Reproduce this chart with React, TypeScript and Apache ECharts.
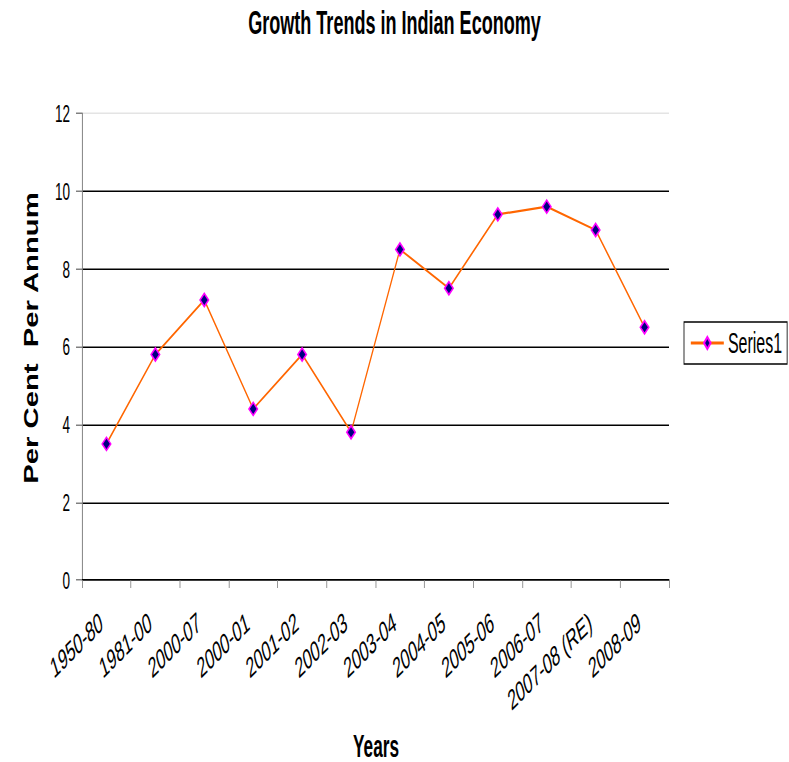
import React, { useEffect, useRef } from "react";
import * as echarts from "echarts";

const categories: string[] = [
  "1950-80",
  "1981-00",
  "2000-07",
  "2000-01",
  "2001-02",
  "2002-03",
  "2003-04",
  "2004-05",
  "2005-06",
  "2006-07",
  "2007-08 (RE)",
  "2008-09",
];
const series1: number[] = [3.5, 5.8, 7.2, 4.4, 5.8, 3.8, 8.5, 7.5, 9.4, 9.6, 9.0, 6.5];
const yMin = 0;
const yMax = 12;
const yStep = 2;

const titleText = "Growth Trends in Indian Economy";
const xName = "Years";
const yName = "Per Cent  Per Annum";
const seriesName = "Series1";

// The reference is a narrow-font chart stretched vertically: reproduce with a transform.
const SX = 0.82;
const SY = 1.5;
const W = 789;
const H = 762;
const IW = W / SX;
const IH = H / SY;
const hx = (v: number) => v / SX; // observed x -> inner x
const hy = (v: number) => v / SY; // observed y -> inner y

const FONT = "'Liberation Sans', Arial, sans-serif";

export default function App() {
  const ref = useRef<HTMLDivElement>(null);
  useEffect(() => {
    if (!ref.current) return;
    const chart = echarts.init(ref.current, undefined, { renderer: "svg", width: IW, height: IH });
    chart.setOption({
      animation: false,
      backgroundColor: "#ffffff",
      title: {
        text: titleText,
        left: "center",
        top: 4,
        padding: 0,
        textStyle: { fontFamily: FONT, fontWeight: "bold", fontSize: 22, color: "#000" },
      },
      legend: {
        data: [seriesName],
        left: hx(684),
        top: hy(322),
        padding: [4, hx(5), 4, hx(6)],
        orient: "vertical",
        borderColor: "#000",
        borderWidth: 1,
        itemWidth: hx(33),
        itemHeight: 10,
        textStyle: { fontFamily: FONT, fontSize: 19.5, color: "#000" },
      },
      grid: { left: hx(82), right: IW - hx(669), top: hy(113.3), bottom: IH - hy(580) },
      xAxis: {
        type: "category",
        data: categories,
        boundaryGap: true,
        axisLine: { lineStyle: { color: "#000", width: 1 } },
        axisTick: { show: true, length: hy(8), alignWithLabel: false, lineStyle: { color: "#808080" } },
        axisLabel: {
          interval: 0,
          rotate: 29,
          margin: 23,
          padding: [0, 7, 0, 0],
          fontFamily: FONT,
          fontSize: 19,
          color: "#000",
        },
        splitLine: { show: false },
      },
      yAxis: {
        type: "value",
        min: yMin,
        max: yMax,
        interval: yStep,
        axisLine: { show: true, lineStyle: { color: "#808080", width: 1.2 } },
        axisTick: { show: true, length: hx(6), lineStyle: { color: "#808080" } },
        axisLabel: { margin: hx(12), fontFamily: FONT, fontSize: 16.5, color: "#000" },
        splitLine: {
          show: true,
          lineStyle: {
            color: ["#000", "#000", "#000", "#000", "#000", "#000", "#e4e4e4"],
            width: 1,
          },
        },
      },
      graphic: [
        {
          type: "text",
          x: hx(376),
          y: hy(746),
          style: {
            text: xName,
            fontFamily: FONT,
            fontWeight: "bold",
            fontSize: 21,
            fill: "#000",
            align: "center",
            verticalAlign: "middle",
          },
        },
        {
          type: "text",
          x: hx(31),
          y: hy(338),
          rotation: Math.PI / 2,
          scaleX: 1.0,
          scaleY: 1.22,
          style: {
            text: yName,
            fontFamily: FONT,
            fontWeight: "bold",
            fontSize: 19.5,
            fill: "#000",
            align: "center",
            verticalAlign: "middle",
          },
        },
      ],
      series: [
        {
          name: seriesName,
          type: "line",
          data: series1,
          symbol: "diamond",
          symbolSize: [hx(8.5), hy(13)],
          showAllSymbol: true,
          lineStyle: { color: "#FF6600", width: 1.5 },
          itemStyle: { color: "#000080", borderColor: "#FF00FF", borderWidth: 1.5 },
          emphasis: { disabled: true },
        },
      ],
    });
    return () => chart.dispose();
  }, []);
  return (
    <div style={{ position: "absolute", left: 0, top: 0, width: W, height: H, overflow: "hidden", background: "#fff" }}>
      <div
        ref={ref}
        style={{ width: IW, height: IH, transform: `scale(${SX}, ${SY})`, transformOrigin: "0 0" }}
      />
    </div>
  );
}
